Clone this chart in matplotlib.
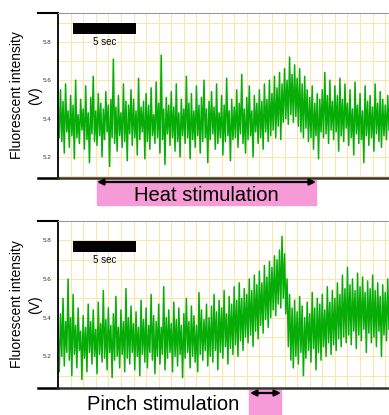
import matplotlib
matplotlib.use("Agg")
import matplotlib.pyplot as plt
import numpy as np

plt.rcParams['font.family'] = ['Liberation Sans', 'DejaVu Sans']

# trazas, una muestra cada 0.1 s
dt = 0.1
heat_trace = [
    5.46, 5.30, 5.55, 5.28, 5.49, 5.22, 5.58, 5.33, 5.44, 5.25,
    5.52, 5.31, 5.47, 5.19, 5.60, 5.30, 5.42, 5.27, 5.50, 5.34,
    5.45, 5.24, 5.57, 5.29, 5.43, 5.17, 5.51, 5.32, 5.62, 5.28,
    5.44, 5.26, 5.53, 5.31, 5.48, 5.20, 5.45, 5.29, 5.54, 5.33,
    5.47, 5.15, 5.50, 5.30, 5.71, 5.27, 5.46, 5.23, 5.52, 5.31,
    5.43, 5.25, 5.58, 5.28, 5.49, 5.18, 5.47, 5.32, 5.55, 5.26,
    5.50, 5.30, 5.44, 5.21, 5.61, 5.29, 5.46, 5.33, 5.49, 5.19,
    5.53, 5.28, 5.47, 5.24, 5.56, 5.31, 5.42, 5.27, 5.59, 5.30,
    5.48, 5.22, 5.73, 5.29, 5.45, 5.16, 5.51, 5.32, 5.47, 5.26,
    5.54, 5.30, 5.46, 5.23, 5.58, 5.28, 5.43, 5.20, 5.50, 5.31,
    5.45, 5.27, 5.62, 5.30, 5.48, 5.19, 5.53, 5.29, 5.44, 5.25,
    5.57, 5.31, 5.47, 5.22, 5.51, 5.28, 5.60, 5.30, 5.45, 5.17,
    5.49, 5.29, 5.54, 5.32, 5.46, 5.24, 5.58, 5.27, 5.43, 5.30,
    5.52, 5.21, 5.47, 5.28, 5.61, 5.31, 5.44, 5.18, 5.50, 5.29,
    5.46, 5.30, 5.55, 5.25, 5.48, 5.32, 5.63, 5.27, 5.45, 5.22,
    5.51, 5.29, 5.57, 5.31, 5.44, 5.20, 5.52, 5.33, 5.48, 5.27,
    5.55, 5.30, 5.49, 5.24, 5.58, 5.33, 5.50, 5.28, 5.60, 5.31,
    5.53, 5.34, 5.62, 5.30, 5.56, 5.36, 5.64, 5.29, 5.58, 5.38,
    5.66, 5.40, 5.60, 5.37, 5.72, 5.42, 5.63, 5.38, 5.68, 5.41,
    5.61, 5.36, 5.66, 5.33, 5.58, 5.30, 5.62, 5.35, 5.55, 5.28,
    5.51, 5.30, 5.57, 5.24, 5.48, 5.31, 5.53, 5.19, 5.50, 5.33,
    5.55, 5.30, 5.64, 5.32, 5.52, 5.27, 5.60, 5.34, 5.49, 5.29,
    5.57, 5.33, 5.52, 5.23, 5.61, 5.31, 5.50, 5.28, 5.58, 5.35,
    5.48, 5.26, 5.55, 5.30, 5.45, 5.21, 5.59, 5.32, 5.47, 5.27,
    5.53, 5.29, 5.44, 5.17, 5.57, 5.31, 5.49, 5.26, 5.52, 5.30,
    5.46, 5.23, 5.58, 5.32, 5.48, 5.28, 5.54, 5.25, 5.50, 5.31,
    5.47, 5.29, 5.52, 5.34,
]
pinch_trace = [
    5.35, 5.12, 5.42, 5.20, 5.50, 5.15, 5.38, 5.22, 5.60, 5.18,
    5.40, 5.10, 5.52, 5.21, 5.36, 5.14, 5.45, 5.23, 5.33, 5.08,
    5.41, 5.19, 5.35, 5.12, 5.47, 5.22, 5.38, 5.16, 5.44, 5.20,
    5.34, 5.11, 5.48, 5.21, 5.37, 5.17, 5.54, 5.19, 5.39, 5.13,
    5.45, 5.22, 5.36, 5.09, 5.42, 5.18, 5.51, 5.20, 5.35, 5.14,
    5.44, 5.21, 5.38, 5.12, 5.55, 5.19, 5.40, 5.16, 5.46, 5.22,
    5.37, 5.13, 5.43, 5.20, 5.35, 5.10, 5.49, 5.21, 5.39, 5.17,
    5.45, 5.14, 5.36, 5.22, 5.52, 5.18, 5.41, 5.11, 5.38, 5.20,
    5.47, 5.16, 5.35, 5.21, 5.56, 5.13, 5.40, 5.19, 5.44, 5.22,
    5.37, 5.12, 5.48, 5.20, 5.39, 5.15, 5.45, 5.21, 5.36, 5.09,
    5.42, 5.19, 5.50, 5.22, 5.38, 5.14, 5.46, 5.20, 5.41, 5.17,
    5.36, 5.12, 5.53, 5.21, 5.44, 5.18, 5.39, 5.23, 5.47, 5.15,
    5.40, 5.20, 5.46, 5.17, 5.52, 5.23, 5.43, 5.13, 5.49, 5.22,
    5.45, 5.19, 5.54, 5.25, 5.42, 5.16, 5.51, 5.24, 5.47, 5.21,
    5.56, 5.26, 5.49, 5.20, 5.58, 5.28, 5.50, 5.23, 5.55, 5.30,
    5.52, 5.27, 5.60, 5.31, 5.54, 5.25, 5.62, 5.33, 5.57, 5.29,
    5.64, 5.36, 5.58, 5.32, 5.67, 5.39, 5.61, 5.35, 5.69, 5.40,
    5.66, 5.44, 5.72, 5.41, 5.70, 5.47, 5.75, 5.45, 5.82, 5.50,
    5.73, 5.42, 5.60, 5.25, 5.52, 5.18, 5.45, 5.14, 5.49, 5.20,
    5.43, 5.16, 5.51, 5.22, 5.46, 5.10, 5.40, 5.19, 5.48, 5.23,
    5.42, 5.17, 5.53, 5.24, 5.45, 5.13, 5.50, 5.22, 5.47, 5.18,
    5.52, 5.25, 5.44, 5.20, 5.56, 5.27, 5.48, 5.21, 5.54, 5.26,
    5.50, 5.23, 5.58, 5.29, 5.52, 5.25, 5.62, 5.30, 5.55, 5.27,
    5.66, 5.31, 5.57, 5.26, 5.60, 5.33, 5.54, 5.24, 5.63, 5.31,
    5.56, 5.28, 5.61, 5.34, 5.53, 5.22, 5.59, 5.32, 5.55, 5.27,
    5.62, 5.30, 5.54, 5.25, 5.58, 5.33, 5.51, 5.20, 5.57, 5.31,
    5.53, 5.28, 5.60, 5.34,
]
ytick_vals = [5.2, 5.4, 5.6, 5.8]
ytick_labels = ["5.2", "5.4", "5.6", "5.8"]
heat_ylim = (5.09, 5.95)
pinch_ylim = (5.036, 5.89)
t_max = 26.3
scale_bar = (1.2, 6.2)   # 5 sec

green = "#07ad07"
grid_col = "#fbe6a4"
pink = "#f79ad8"

fig = plt.figure(figsize=(3.89, 4.15), dpi=100)
ax1 = fig.add_axes([58/389, 1-178/415, 1-58/389, 165/415])
ax2 = fig.add_axes([58/389, 1-388/415, 1-58/389, 167/415])


def panel(ax, trace, ylim, bar_y):
    t = np.arange(len(trace)) * dt
    ax.set_xlim(0, t_max)
    ax.set_ylim(*ylim)
    ax.set_xticks(np.arange(0, 27, 1))
    ax.set_yticks(np.arange(5.1, 5.95, 0.1), minor=True)
    ax.set_yticks(ytick_vals)
    ax.set_yticklabels(ytick_labels)
    ax.grid(True, which="both", color=grid_col, lw=0.7)
    ax.set_axisbelow(True)
    ax.tick_params(axis="both", which="both", length=0)
    ax.tick_params(axis="y", labelsize=4.5, pad=5, labelcolor="#333333")
    ax.tick_params(axis="x", labelbottom=False)
    ax.plot(t, trace, color=green, lw=1.1)
    ax.spines["right"].set_visible(False)
    ax.spines["top"].set_color("#999999")
    ax.spines["top"].set_linewidth(0.8)
    ax.spines["left"].set_color("black")
    ax.spines["left"].set_linewidth(1.3)
    ax.spines["bottom"].set_color("#333333")
    ax.spines["bottom"].set_linewidth(1.8)
    # trazos negros a la izquierda del eje
    ax.plot([-0.06, 0], [1, 1], transform=ax.transAxes, color="black", lw=1.5, clip_on=False)
    ax.plot([-0.06, 0], [0, 0], transform=ax.transAxes, color="black", lw=1.8, clip_on=False)
    # barra de escala
    ax.fill_between(scale_bar, bar_y[0], bar_y[1], color="black", lw=0, zorder=5)
    ax.text(np.mean(scale_bar), bar_y[0] - 0.04, "5 sec", fontsize=7, ha="center", va="center", zorder=5)
    ax.text(-0.124, 0.5, "Fluorescent intensity", transform=ax.transAxes, rotation=90,
            ha="center", va="center", fontsize=10)
    ax.text(-0.069, 0.5, "(V)", transform=ax.transAxes, rotation=90,
            ha="center", va="center", fontsize=10)


panel(ax1, heat_trace, heat_ylim, (5.84, 5.90))
panel(ax2, pinch_trace, pinch_ylim, (5.74, 5.795))

arrow = dict(arrowstyle="<|-|>", mutation_scale=9, color="black", lw=1.6, shrinkA=0, shrinkB=0)

# Heat stimulation
fig.patches.append(plt.Rectangle((97/389, 1-205/415), 219/389, 25/415, transform=fig.transFigure,
                                 color=pink, zorder=-1))
fig.text(206/389, 1-195/415, "Heat stimulation", fontsize=14.5, ha="center", va="center")
ax1.annotate("", xy=(316/389, 1-182/415), xytext=(97/389, 1-182/415),
             xycoords="figure fraction", textcoords="figure fraction",
             arrowprops=arrow, annotation_clip=False)

# Pinch stimulation
fig.patches.append(plt.Rectangle((249/389, 0), 32/389, 25/415, transform=fig.transFigure,
                                 color=pink, zorder=-1))
fig.text(163/389, 1-404/415, "Pinch stimulation", fontsize=14.5, ha="center", va="center")
ax2.annotate("", xy=(281/389, 1-393/415), xytext=(250/389, 1-393/415),
             xycoords="figure fraction", textcoords="figure fraction",
             arrowprops=arrow, annotation_clip=False)

fig.savefig("out.png", dpi=100)
